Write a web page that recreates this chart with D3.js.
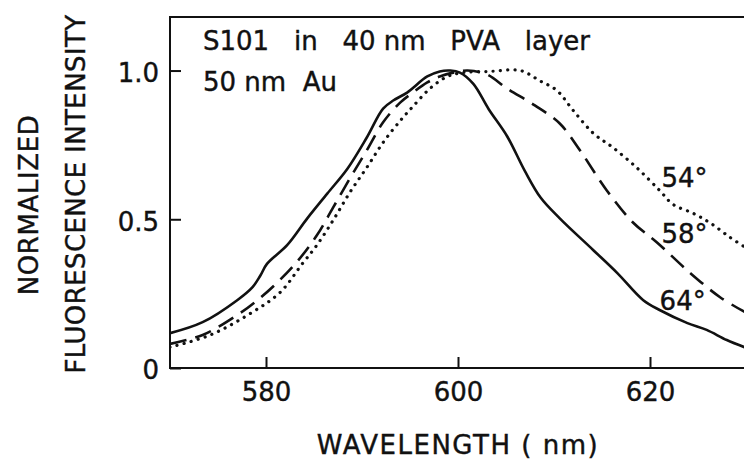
<!DOCTYPE html>
<html>
<head>
<meta charset="utf-8">
<script src="https://cdn.jsdelivr.net/npm/d3@7"></script>
<style>
  html, body { margin: 0; padding: 0; background: #fff; }
  svg { display: block; font-family: "DejaVu Sans", sans-serif; }
  svg text { stroke: #111; stroke-width: 0.4px; }
</style>
</head>
<body>
<svg id="chart" width="744" height="460"></svg>
<script>
// spectra: [wavelength nm, normalized intensity]
const angle64 = [
  [570, 0.117], [573.4, 0.154], [577, 0.228], [578.6, 0.272], [579.4, 0.31], [580.1, 0.35],
  [582.2, 0.413], [584.3, 0.503], [586.4, 0.587], [588.5, 0.671], [590.5, 0.775], [592.2, 0.872],
  [593.3, 0.9], [594.7, 0.926], [596.8, 0.98], [598.1, 0.997], [599.2, 1.0], [600.2, 0.993],
  [601.6, 0.955], [603.2, 0.87], [605.1, 0.78], [607, 0.66], [608.6, 0.573], [610.6, 0.503],
  [614.1, 0.396], [616.6, 0.319], [619.3, 0.228], [621, 0.195], [623.9, 0.151], [625.9, 0.128],
  [628, 0.094], [630, 0.068]
];
const angle58 = [
  [570, 0.081], [573.4, 0.111], [577, 0.178], [579.1, 0.228], [581.1, 0.285], [583.2, 0.356],
  [585.3, 0.446], [587, 0.54], [588.75, 0.638], [590.5, 0.732], [592.2, 0.826], [594, 0.893],
  [595.3, 0.926], [596.8, 0.96], [598.1, 0.98], [599.5, 0.993], [601, 1.0], [603, 0.987],
  [605.1, 0.94], [608, 0.883], [610.6, 0.822], [612.7, 0.732], [615.5, 0.597], [618.2, 0.49],
  [620.7, 0.423], [624.2, 0.319], [627.3, 0.238], [630, 0.186]
];
const angle54 = [
  [570, 0.07], [574.2, 0.111], [578.6, 0.188], [581.5, 0.255], [583.75, 0.349], [585.3, 0.413],
  [587, 0.497], [588.75, 0.591], [590.5, 0.674], [592.2, 0.758], [594, 0.832], [595.3, 0.879],
  [597.1, 0.94], [598.9, 0.98], [600.5, 0.993], [603.3, 0.997], [606.5, 1.0], [608.5, 0.966],
  [610.3, 0.933], [612, 0.866], [614.1, 0.789], [616.1, 0.742], [618.6, 0.674], [621, 0.597],
  [622.4, 0.55], [624.5, 0.52], [626.3, 0.487], [628.3, 0.44], [630, 0.404]
];

const xTicks = [580, 600, 620];
const yTicks = [0, 0.5, 1.0];
const curveLabels = ["54°", "58°", "64°"];
const curveLabelPos = [[621.2, 0.608], [621.2, 0.419], [621.0, 0.195]];
const noteLines = ["S101   in   40 nm   PVA   layer", "50 nm  Au"];

const W = 744, H = 460;
const margin = { left: 170, top: 17, right: -2, bottom: 92 };
const innerW = W - margin.left - margin.right;
const innerH = H - margin.top - margin.bottom;
const ink = "#111";

const svg = d3.select("#chart");

const x = d3.scaleLinear().domain([570, 630]).range([margin.left, W - margin.right]);
const y = d3.scaleLinear().domain([0, 1.18]).range([H - margin.bottom, margin.top]);

svg.append("clipPath").attr("id", "plot-clip")
  .append("rect")
  .attr("x", margin.left).attr("y", margin.top)
  .attr("width", innerW).attr("height", innerH);

// frame
svg.append("rect")
  .attr("x", margin.left).attr("y", margin.top)
  .attr("width", innerW).attr("height", innerH)
  .attr("fill", "none").attr("stroke", ink).attr("stroke-width", 2);

// axes (inward ticks)
const xAxis = svg.append("g")
  .attr("transform", `translate(0,${H - margin.bottom})`)
  .call(d3.axisBottom(x).tickValues(xTicks).tickSize(-11).tickSizeOuter(0).tickPadding(15));

const yAxis = svg.append("g")
  .attr("transform", `translate(${margin.left},0)`)
  .call(d3.axisLeft(y).tickValues(yTicks).tickSize(-11).tickSizeOuter(0).tickPadding(11)
    .tickFormat(d => d === 0 ? "0" : d3.format(".1f")(d)));

[xAxis, yAxis].forEach(g => {
  g.select(".domain").remove();
  g.selectAll(".tick line").attr("stroke", ink).attr("stroke-width", 2);
  g.selectAll(".tick text")
    .attr("fill", ink)
    .style("font-family", '"DejaVu Sans", sans-serif')
    .style("font-size", "26px");
});
yAxis.selectAll(".tick text").attr("dy", "0.42em");

// curves
const line = d3.line()
  .x(d => x(d[0]))
  .y(d => y(d[1]))
  .curve(d3.curveCatmullRom.alpha(0.5));

const curves = svg.append("g").attr("clip-path", "url(#plot-clip)");

curves.append("path")
  .datum(angle64)
  .attr("d", line)
  .attr("fill", "none")
  .attr("stroke", ink)
  .attr("stroke-width", 2.6)
  .attr("stroke-linejoin", "round");

curves.append("path")
  .datum(angle58)
  .attr("d", line)
  .attr("fill", "none")
  .attr("stroke", ink)
  .attr("stroke-width", 2.6)
  .attr("stroke-dasharray", "17 9");

curves.append("path")
  .datum(angle54)
  .attr("d", line)
  .attr("fill", "none")
  .attr("stroke", ink)
  .attr("stroke-width", 3.2)
  .attr("stroke-linecap", "round")
  .attr("stroke-dasharray", "0.1 7.2");

// curve labels
svg.append("g")
  .selectAll("text")
  .data(curveLabels)
  .join("text")
  .attr("x", (d, i) => x(curveLabelPos[i][0]))
  .attr("y", (d, i) => y(curveLabelPos[i][1]))
  .attr("fill", ink)
  .style("font-size", "26px")
  .text(d => d);

// note in the upper left
svg.append("g")
  .selectAll("text")
  .data(noteLines)
  .join("text")
  .attr("x", 203)
  .attr("y", (d, i) => 50 + i * 41)
  .attr("fill", ink)
  .style("font-size", "26px")
  .style("white-space", "pre")
  .text(d => d);

// axis titles
svg.append("text")
  .attr("x", x(600))
  .attr("y", 454)
  .attr("text-anchor", "middle")
  .attr("fill", ink)
  .style("font-size", "26px")
  .style("letter-spacing", "1.5px")
  .style("white-space", "pre")
  .text("WAVELENGTH ( nm)");

svg.append("text")
  .attr("transform", "translate(38,205) rotate(-90)")
  .attr("text-anchor", "middle")
  .attr("fill", ink)
  .style("font-size", "26px")
  .style("letter-spacing", "0.6px")
  .text("NORMALIZED");

svg.append("text")
  .attr("transform", "translate(85,194) rotate(-90)")
  .attr("text-anchor", "middle")
  .attr("fill", ink)
  .style("font-size", "26px")
  .style("letter-spacing", "0.4px")
  .text("FLUORESCENCE INTENSITY");
</script>
</body>
</html>
